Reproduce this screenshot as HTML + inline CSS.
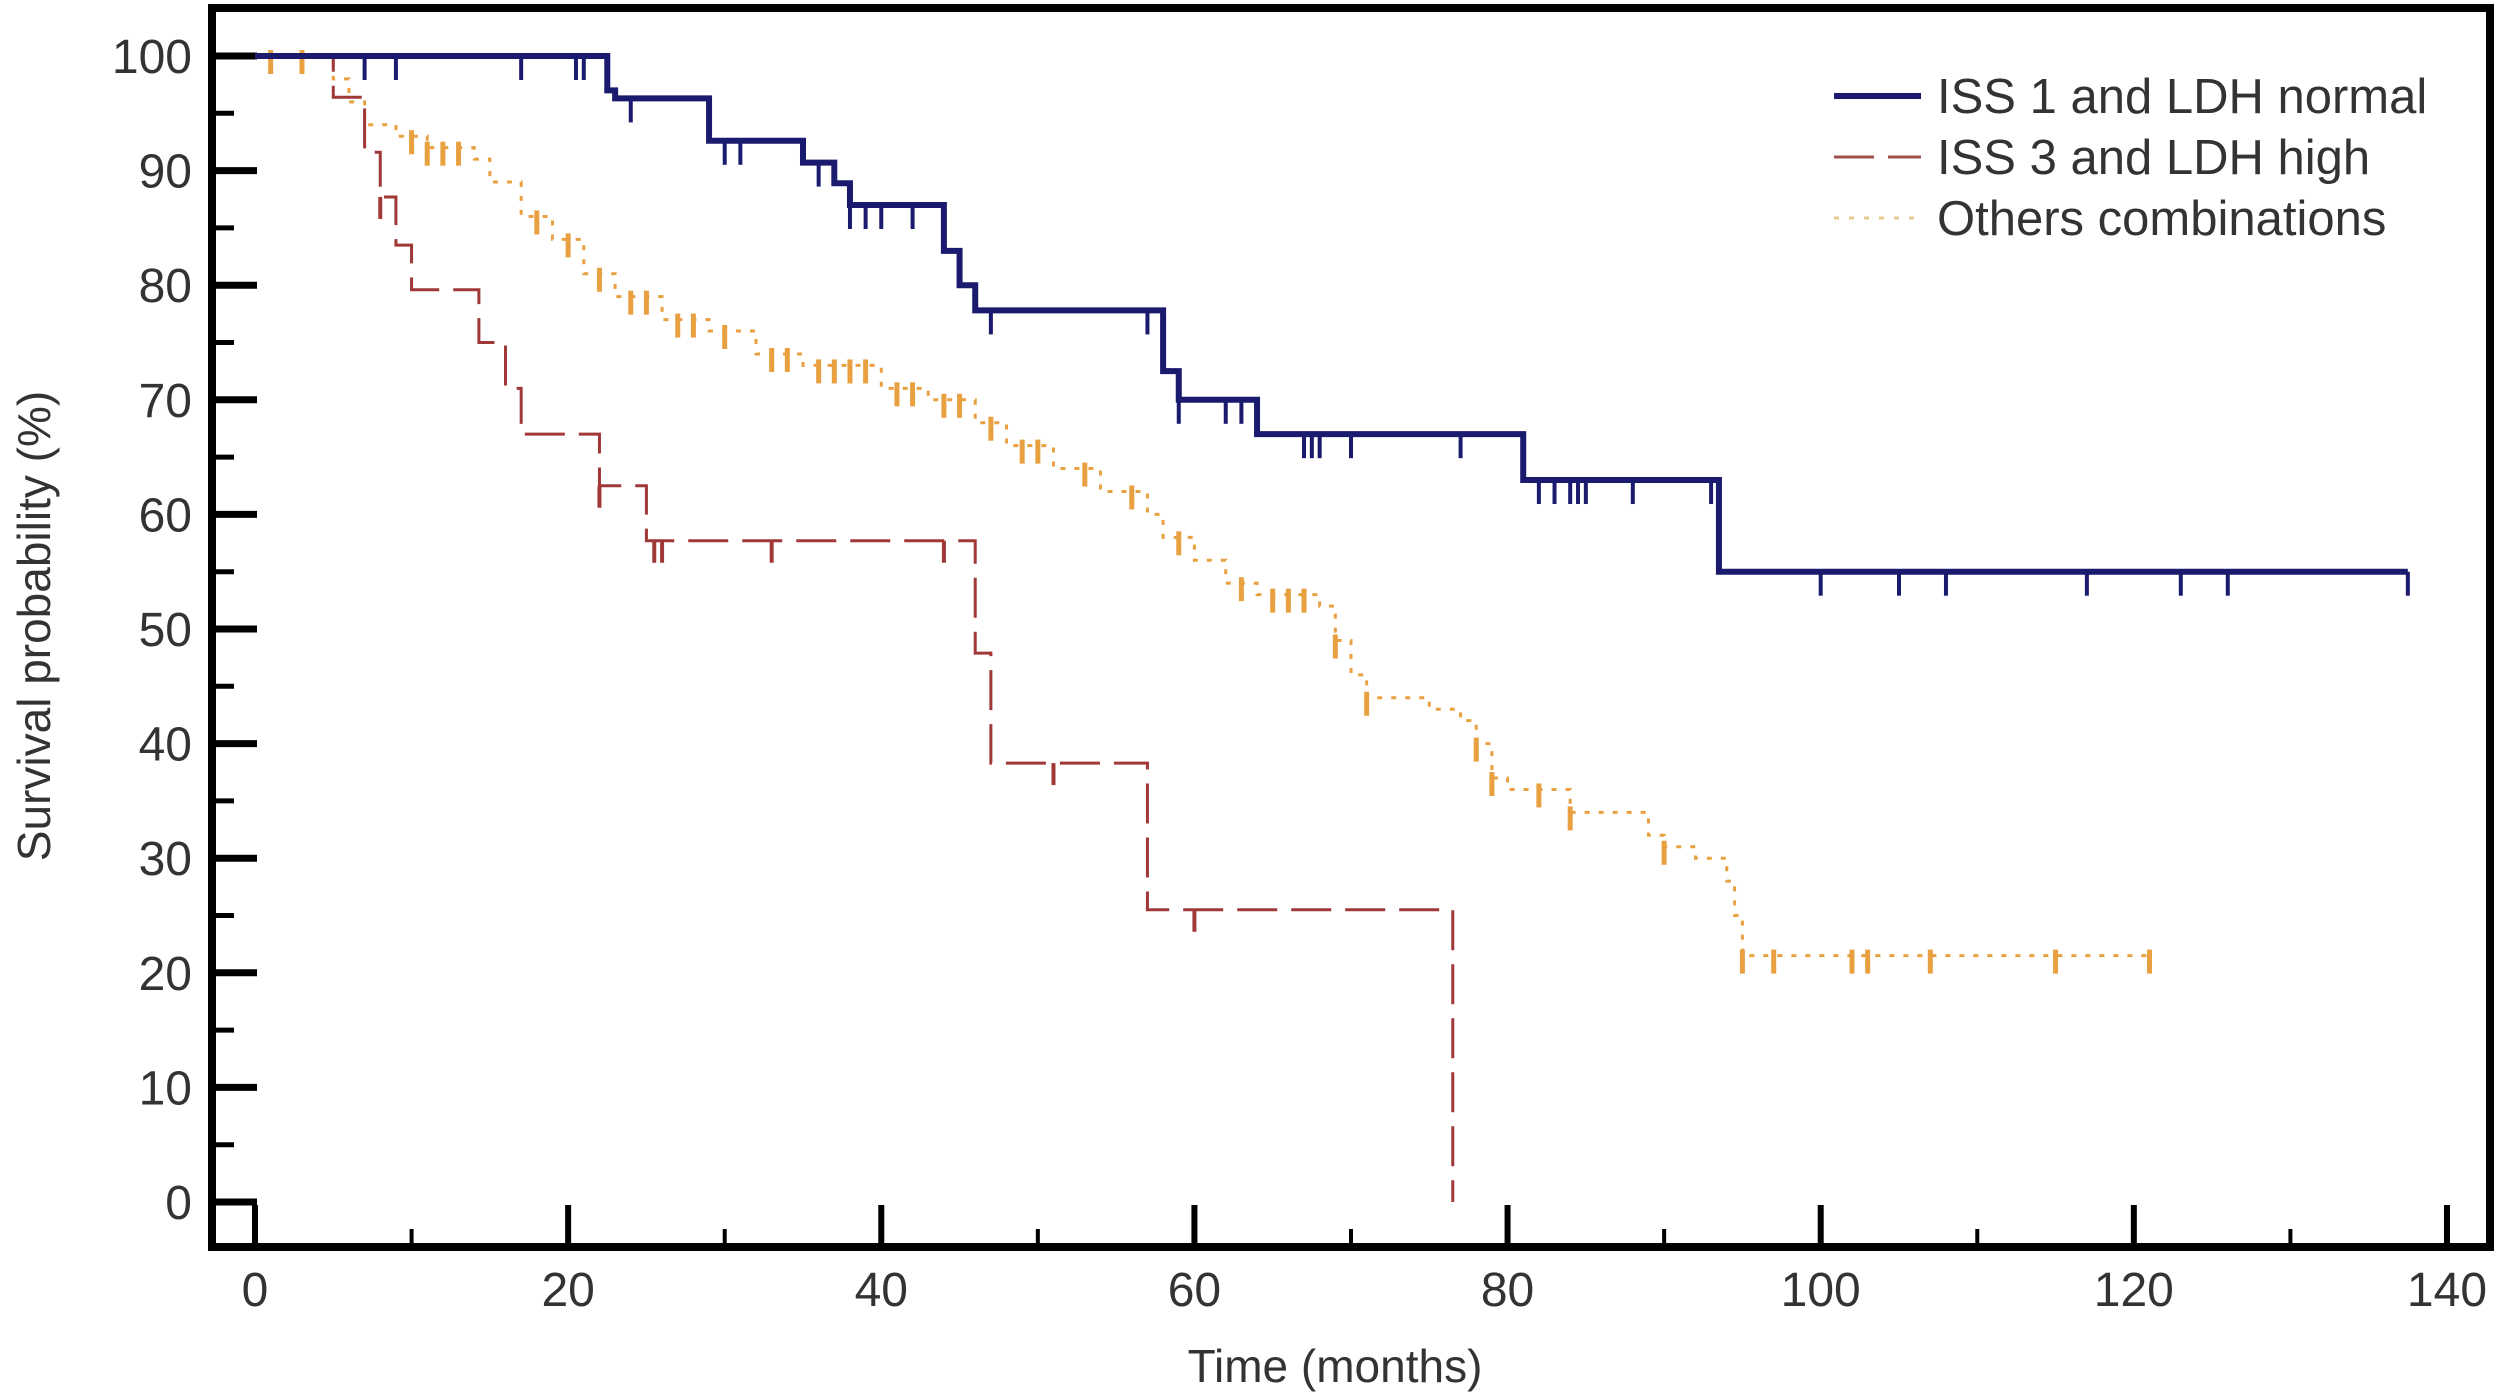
<!DOCTYPE html>
<html><head><meta charset="utf-8"><style>
html,body{margin:0;padding:0;background:#fff;}
svg{display:block;font-family:"Liberation Sans",sans-serif;}
</style></head><body>
<svg id="chart" width="2500" height="1400" viewBox="0 0 2500 1400" xmlns="http://www.w3.org/2000/svg">
<rect x="212" y="8" width="2278" height="1239" fill="none" stroke="#000" stroke-width="8"/>
<g id="axes"></g>
<g id="series"></g>
<text x="1335" y="1382" font-size="46" fill="#333" text-anchor="middle">Time (months)</text>
<text transform="translate(50,626) rotate(-90)" font-size="46" fill="#333" text-anchor="middle">Survival probability (%)</text>
<g>
<line x1="1834" y1="96" x2="1921" y2="96" stroke="#1a1a6e" stroke-width="6"/>
<text x="1937" y="113" font-size="49" fill="#333">ISS 1 and LDH normal</text>
<line x1="1834" y1="157" x2="1921" y2="157" stroke="#a0504a" stroke-width="3" stroke-dasharray="40,14"/>
<text x="1937" y="174" font-size="49" fill="#333">ISS 3 and LDH high</text>
<line x1="1834" y1="218" x2="1921" y2="218" stroke="#e8c890" stroke-width="3" stroke-dasharray="5,10"/>
<text x="1937" y="235" font-size="49" fill="#333">Others combinations</text>
</g>
</svg>
<script>
const xTicks=[0,20,40,60,80,100,120,140];
const yTicks=[0,10,20,30,40,50,60,70,80,90,100];
const iss1Times=[0,22.5,23,29,35,37,38,44,45,46,58,59,64,81,93.5,137.5];
const iss1Surv=[100,97,96.3,92.6,90.7,88.9,87,83,80,77.8,72.5,70,67,63,55,55];
const iss1Cens=[7,9,17,20.5,21,24,30,31,36,38,39,40,42,47,57,59,62,63,67,67.5,68,70,77,82,83,84,84.5,85,88,93,100,105,108,117,123,126,137.5];
const iss3Times=[0,5,7,8,9,10,14.3,16,17,22,25,46,47,57,76.5];
const iss3Surv=[100,96.4,91.6,87.7,83.5,79.6,75,71,67,62.5,57.7,47.9,38.3,25.5,0];
const iss3Cens=[8,22,25.5,26,33,44,51,60];
const othTimes=[0,5,6,7,9,11,14,15,17,19,21,23,26,29,32,35,40,43,46,48,51,54,57,58,60,62,64,68,69,70,71,75,77,78,79,80,84,89,90,92,94,94.5,95,121];
const othSurv=[100,98,96,94,93,92,91,89,86,84,81,79,77,76,74,73,71,70,68,66,64,62,60,58,56,54,53,52,49,46,44,43,42,40,37,36,34,32,31,30,28,25,21.5,21.5];
const othCens=[1,3,10,11,12,13,18,20,22,24,25,27,28,30,33,34,36,37,38,39,41,42,44,45,47,49,50,53,56,59,63,65,66,67,69,71,78,79,82,84,90,95,97,102,103,107,115,121];

const NS='http://www.w3.org/2000/svg';
const X=m=>255+m*15.657;
const Y=v=>1202-v*11.46;
function mk(tag,attrs,parent){const e=document.createElementNS(NS,tag);for(const k in attrs)e.setAttribute(k,attrs[k]);parent.appendChild(e);return e;}
const axes=document.getElementById('axes');
for(let v=0;v<=100;v+=5){
  const major=v%10===0;
  const t=mk('line',{x1:212,x2:212+(major?45:22),y1:Y(v),y2:Y(v),stroke:'#000','stroke-width':major?7:5},axes);
  
  
}
yTicks.forEach(v=>{
  const t=mk('text',{x:192,y:Y(v)+17,'font-size':48,fill:'#333','text-anchor':'end'},axes);t.textContent=v;
  
  
});
for(let m=0;m<=140;m+=10){
  const major=m%20===0;
  const t=mk('line',{x1:X(m),x2:X(m),y1:1247,y2:1247-(major?42:18),stroke:'#000','stroke-width':major?6:4},axes);
  
  
}
xTicks.forEach(m=>{
  const t=mk('text',{x:X(m),y:1306,'font-size':48,fill:'#333','text-anchor':'middle'},axes);t.textContent=m;
  
  
});
const ser=document.getElementById('series');
function stepPath(ts,ss){let d='M'+X(ts[0])+','+Y(ss[0]);for(let i=1;i<ts.length;i++){d+=' H'+X(ts[i])+' V'+Y(ss[i]);}return d;}
function survAt(ts,ss,t){let s=ss[0];for(let i=0;i<ts.length;i++){if(ts[i]<=t)s=ss[i];}return s;}
function draw(name,ts,ss,cs,color,w,dash,tickUp,tickDown,tw){
  const g=mk('g',{},ser);
  
  
  const p=mk('path',{d:stepPath(ts,ss),fill:'none',stroke:color,'stroke-width':w,'stroke-dasharray':dash},g);
  
  
  cs.forEach(c=>{
    const y=Y(survAt(ts,ss,c));
    const l=mk('line',{x1:X(c),x2:X(c),y1:y-tickUp,y2:y+tickDown,stroke:color,'stroke-width':tw},g);
    
    
  });
}
draw('others',othTimes,othSurv,othCens,'#e8a040',3,'5,9',6,18,5);
draw('iss3',iss3Times,iss3Surv,iss3Cens,'#a03838',3,'40,14',0,22,4);
draw('iss1',iss1Times,iss1Surv,iss1Cens,'#1a1a6e',6,'none',0,24,4);
</script>
</body></html>
